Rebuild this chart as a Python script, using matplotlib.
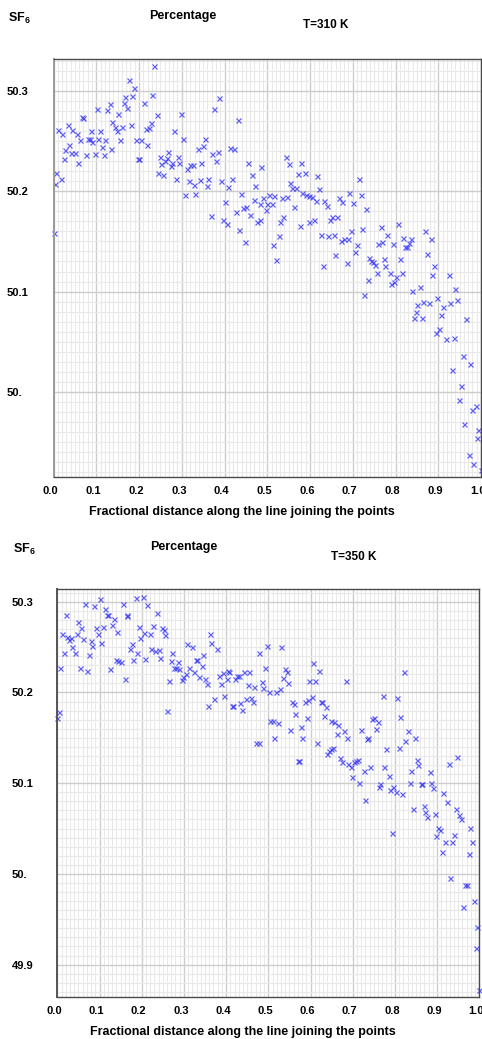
import matplotlib
matplotlib.use("Agg")
import matplotlib.pyplot as plt
from matplotlib.transforms import ScaledTranslation
import numpy as np

plt.rcParams['font.family'] = ['Liberation Sans', 'DejaVu Sans']
plt.rcParams['mathtext.fontset'] = 'custom'
plt.rcParams['mathtext.bf'] = 'Liberation Sans:bold'
plt.rcParams['mathtext.rm'] = 'Liberation Sans:bold'

# ---------------- data: T = 310 K ----------------
x310 = [0.2346, 0.177, 0.189, 0.2315, 0.168, 0.184, 0.388, 0.131, 0.164, 0.211,
        0.101, 0.125, 0.172, 0.375, 0.150, 0.241, 0.298, 0.067, 0.070, 0.431,
        0.138, 0.228, 0.144, 0.161, 0.181, 0.034, 0.011, 0.044, 0.020, 0.054,
        0.087, 0.108, 0.148, 0.216, 0.224, 0.282, 0.061, 0.081, 0.085, 0.091,
        0.105, 0.121, 0.155, 0.194, 0.205, 0.304, 0.354, 0.037, 0.113, 0.218,
        0.349, 0.337, 0.413, 0.422, 0.028, 0.135, 0.040, 0.050, 0.075, 0.097,
        0.117, 0.269, 0.384, 0.371, 0.024, 0.198, 0.201, 0.248, 0.265, 0.291,
        0.379, 0.058, 0.252, 0.261, 0.275, 0.278, 0.294, 0.320, 0.326, 0.346,
        0.455, 0.312, 0.486, 0.007, 0.244, 0.257, 0.465, 0.017, 0.287, 0.316,
        0.342, 0.362, 0.392, 0.418, 0.004, 0.328, 0.358, 0.409, 0.472, 0.307,
        0.331, 0.439, 0.468, 0.401, 0.484, 0.426, 0.443, 0.451, 0.460, 0.368,
        0.396, 0.406, 0.483, 0.476, 0.435, 0.448, 0.0,
        0.543, 0.550, 0.580, 0.573, 0.589, 0.617, 0.715, 0.554, 0.559, 0.567,
        0.622, 0.582, 0.591, 0.598, 0.605, 0.613, 0.692, 0.719, 0.669, 0.676,
        0.701, 0.633, 0.639, 0.490, 0.503, 0.516, 0.534, 0.546, 0.500, 0.510,
        0.496, 0.563, 0.731, 0.537, 0.530, 0.646, 0.652, 0.662, 0.597, 0.609,
        0.576, 0.805, 0.765, 0.868, 0.696, 0.722, 0.527, 0.626, 0.643, 0.655,
        0.672, 0.679, 0.688, 0.781, 0.818, 0.836, 0.882, 0.513, 0.709, 0.759,
        0.769, 0.794, 0.831, 0.823, 0.828, 0.705, 0.659, 0.874, 0.520, 0.739,
        0.743, 0.747, 0.752, 0.772, 0.811, 0.630, 0.686, 0.776, 0.890, 0.756,
        0.786, 0.815, 0.802, 0.885, 0.925, 0.735, 0.789, 0.797, 0.726, 0.839,
        0.858, 0.940, 0.898, 0.851, 0.864, 0.878, 0.911, 0.928, 0.944, 0.847,
        0.907, 0.844, 0.861, 0.965, 0.902, 0.895, 0.918, 0.937,
        0.957, 0.974, 0.932, 0.954, 0.948, 0.988, 0.978, 0.994, 0.961, 0.991,
        0.971, 0.982, 1.0]
y310 = [50.325, 50.311, 50.303, 50.296, 50.294, 50.295, 50.293, 50.287, 50.288, 50.288,
        50.282, 50.281, 50.283, 50.282, 50.277, 50.276, 50.277, 50.274, 50.273, 50.271,
        50.269, 50.268, 50.264, 50.264, 50.266, 50.266, 50.261, 50.261, 50.257, 50.257,
        50.260, 50.260, 50.260, 50.262, 50.263, 50.260, 50.251, 50.252, 50.252, 50.249,
        50.252, 50.251, 50.251, 50.251, 50.251, 50.252, 50.252, 50.246, 50.244, 50.246,
        50.245, 50.242, 50.243, 50.242, 50.241, 50.242, 50.238, 50.238, 50.236, 50.237,
        50.236, 50.239, 50.239, 50.237, 50.232, 50.232, 50.232, 50.234, 50.233, 50.234,
        50.230, 50.228, 50.227, 50.230, 50.225, 50.228, 50.228, 50.226, 50.226, 50.228,
        50.228, 50.222, 50.224, 50.218, 50.218, 50.216, 50.216, 50.212, 50.212, 50.210,
        50.211, 50.212, 50.210, 50.212, 50.207, 50.206, 50.205, 50.204, 50.205, 50.196,
        50.197, 50.197, 50.191, 50.189, 50.187, 50.179, 50.183, 50.184, 50.176, 50.175,
        50.171, 50.167, 50.171, 50.169, 50.161, 50.149, 50.158,
        50.234, 50.227, 50.228, 50.217, 50.218, 50.215, 50.212, 50.208, 50.203, 50.203,
        50.202, 50.198, 50.196, 50.195, 50.194, 50.190, 50.198, 50.196, 50.193, 50.189,
        50.188, 50.190, 50.185, 50.193, 50.196, 50.195, 50.193, 50.194, 50.187, 50.187,
        50.181, 50.184, 50.182, 50.174, 50.169, 50.171, 50.174, 50.174, 50.169, 50.171,
        50.165, 50.167, 50.164, 50.160, 50.160, 50.162, 50.155, 50.156, 50.155, 50.156,
        50.150, 50.152, 50.152, 50.156, 50.153, 50.152, 50.152, 50.146, 50.146, 50.147,
        50.149, 50.147, 50.148, 50.144, 50.144, 50.139, 50.136, 50.137, 50.131, 50.133,
        50.130, 50.129, 50.126, 50.132, 50.132, 50.125, 50.128, 50.125, 50.125, 50.119,
        50.119, 50.119, 50.115, 50.117, 50.117, 50.112, 50.108, 50.110, 50.097, 50.101,
        50.105, 50.103, 50.094, 50.087, 50.090, 50.089, 50.085, 50.089, 50.092, 50.080,
        50.077, 50.074, 50.074, 50.073, 50.063, 50.059, 50.053, 50.054,
        50.036, 50.028, 50.022, 50.006, 49.992, 49.986, 49.982, 49.962, 49.968, 49.954,
        49.937, 49.928, 49.922]

# ---------------- data: T = 350 K ----------------
x350 = [0.100, 0.186, 0.202, 0.066, 0.087, 0.156, 0.213, 0.113, 0.021, 0.118,
        0.121, 0.164, 0.166, 0.236, 0.134, 0.050, 0.130, 0.057, 0.092, 0.109,
        0.193, 0.227, 0.249, 0.252, 0.142, 0.010, 0.024, 0.028, 0.032, 0.046,
        0.062, 0.096, 0.206, 0.220, 0.196, 0.256, 0.079, 0.104, 0.036, 0.083,
        0.176, 0.172, 0.222, 0.232, 0.240, 0.016, 0.041, 0.074, 0.189, 0.272,
        0.308, 0.319, 0.362, 0.365, 0.378, 0.345, 0.243, 0.139, 0.145, 0.150,
        0.179, 0.209, 0.269, 0.285, 0.328, 0.332, 0.006, 0.054, 0.070, 0.126,
        0.277, 0.282, 0.289, 0.312, 0.342, 0.324, 0.304, 0.299, 0.296, 0.335,
        0.349, 0.354, 0.160, 0.265, 0.383, 0.392, 0.405, 0.408, 0.402, 0.427,
        0.430, 0.442, 0.455, 0.421, 0.387, 0.451, 0.467, 0.479, 0.395, 0.371,
        0.357, 0.413, 0.417, 0.434, 0.447, 0.459, 0.463, 0.438, 0.003, 0.0,
        0.261, 0.472, 0.477,
        0.497, 0.530, 0.493, 0.484, 0.488, 0.501, 0.518, 0.527, 0.534, 0.540,
        0.544, 0.547, 0.607, 0.620, 0.597, 0.610, 0.683, 0.821, 0.557, 0.561,
        0.587, 0.594, 0.603, 0.624, 0.627, 0.637, 0.564, 0.591, 0.633, 0.772,
        0.806, 0.812, 0.503, 0.511, 0.523, 0.551, 0.577, 0.648, 0.655, 0.666,
        0.680, 0.663, 0.687, 0.720, 0.745, 0.751, 0.759, 0.756, 0.831, 0.514,
        0.581, 0.733, 0.736, 0.825, 0.847, 0.616, 0.653, 0.648, 0.643, 0.640,
        0.779, 0.810, 0.571, 0.573, 0.670, 0.674, 0.689, 0.695, 0.702, 0.707,
        0.712, 0.742, 0.775, 0.852, 0.855, 0.928, 0.948, 0.726, 0.839, 0.882,
        0.699, 0.785, 0.716, 0.764, 0.762, 0.796, 0.789, 0.802, 0.818, 0.836,
        0.862, 0.864, 0.886, 0.890, 0.915, 0.730, 0.924, 0.869, 0.843, 0.872,
        0.895, 0.944, 0.952, 0.877, 0.957,
        0.978, 0.902, 0.907, 0.792, 0.898, 0.941, 0.919, 0.936, 0.982, 0.912,
        0.975, 0.931, 0.965, 0.971, 0.988, 0.962, 0.995, 0.991, 1.0]
y350 = [50.303, 50.304, 50.305, 50.298, 50.295, 50.297, 50.296, 50.292, 50.285, 50.285,
        50.285, 50.284, 50.285, 50.288, 50.281, 50.278, 50.274, 50.271, 50.271, 50.272,
        50.272, 50.273, 50.271, 50.269, 50.267, 50.264, 50.261, 50.258, 50.260, 50.264,
        50.259, 50.264, 50.265, 50.264, 50.260, 50.263, 50.257, 50.254, 50.250, 50.251,
        50.253, 50.248, 50.248, 50.246, 50.247, 50.243, 50.243, 50.241, 50.244, 50.244,
        50.253, 50.250, 50.264, 50.255, 50.248, 50.241, 50.238, 50.236, 50.235, 50.234,
        50.236, 50.237, 50.235, 50.234, 50.236, 50.236, 50.227, 50.227, 50.224, 50.226,
        50.227, 50.227, 50.226, 50.227, 50.229, 50.223, 50.220, 50.217, 50.214, 50.217,
        50.215, 50.209, 50.215, 50.213, 50.218, 50.221, 50.224, 50.222, 50.215, 50.218,
        50.218, 50.222, 50.222, 50.215, 50.209, 50.208, 50.206, 50.244, 50.196, 50.193,
        50.185, 50.185, 50.185, 50.188, 50.193, 50.194, 50.189, 50.181, 50.178, 50.172,
        50.180, 50.144, 50.144,
        50.251, 50.250, 50.227, 50.211, 50.205, 50.200, 50.201, 50.204, 50.216, 50.226,
        50.223, 50.210, 50.232, 50.224, 50.213, 50.213, 50.213, 50.222, 50.189, 50.187,
        50.189, 50.192, 50.195, 50.189, 50.190, 50.184, 50.176, 50.172, 50.174, 50.196,
        50.194, 50.173, 50.168, 50.168, 50.166, 50.159, 50.162, 50.168, 50.167, 50.164,
        50.157, 50.154, 50.150, 50.159, 50.171, 50.172, 50.167, 50.160, 50.158, 50.150,
        50.150, 50.149, 50.150, 50.147, 50.150, 50.144, 50.139, 50.138, 50.136, 50.132,
        50.138, 50.139, 50.125, 50.125, 50.128, 50.123, 50.121, 50.118, 50.123, 50.124,
        50.126, 50.118, 50.118, 50.126, 50.120, 50.121, 50.129, 50.113, 50.113, 50.112,
        50.107, 50.108, 50.100, 50.099, 50.096, 50.096, 50.093, 50.090, 50.088, 50.100,
        50.099, 50.099, 50.100, 50.095, 50.089, 50.082, 50.079, 50.075, 50.071, 50.068,
        50.066, 50.072, 50.065, 50.063, 50.061,
        50.051, 50.051, 50.048, 50.045, 50.042, 50.043, 50.035, 50.035, 50.035, 50.024,
        50.022, 49.996, 49.988, 49.988, 49.970, 49.964, 49.941, 49.918, 49.872]

xticks = [0.0, 0.1, 0.2, 0.3, 0.4, 0.5, 0.6, 0.7, 0.8, 0.9, 1.0]
xticklabels = ["0.0", "0.1", "0.2", "0.3", "0.4", "0.5", "0.6", "0.7", "0.8", "0.9", "1.0"]
yticks310 = [50.0, 50.1, 50.2, 50.3]
yticklabels310 = ["50.", "50.1", "50.2", "50.3"]
yticks350 = [49.9, 50.0, 50.1, 50.2, 50.3]
yticklabels350 = ["49.9", "50.", "50.1", "50.2", "50.3"]
xlabel_text = "Fractional distance along the line joining the points"

W, H = 482, 1039
fig = plt.figure(figsize=(W / 100, H / 100), dpi=100)


def make_panel(rect, xs, ys, ylim, yticks, ylabels, ylab_left_px, left_spine_color):
    l, t, r, b = rect
    ax = fig.add_axes([l / W, 1 - b / H, (r - l) / W, (b - t) / H])
    ax.set_xlim(0, 1.0)
    ax.set_ylim(*ylim)
    ax.set_xticks(np.arange(0, 1.0001, 0.01), minor=True)
    ax.set_yticks(np.arange(49.8, 50.4, 0.01), minor=True)
    ax.set_xticks(xticks)
    ax.set_xticklabels(xticklabels, fontsize=8, fontweight='bold')
    ax.set_yticks(yticks)
    ax.set_yticklabels(ylabels, fontsize=8, fontweight='bold')
    ax.set_ylim(*ylim)
    ax.grid(which='minor', color='#e9e9e9', linewidth=0.8)
    ax.grid(which='major', color='#cdcdcd', linewidth=1.0)
    ax.set_axisbelow(True)
    ax.tick_params(which='both', length=0)
    ax.tick_params(axis='x', pad=6.5)
    pad_px = l - ylab_left_px
    ax.tick_params(axis='y', pad=pad_px * 0.72)
    for lbl in ax.get_yticklabels():
        lbl.set_horizontalalignment('left')
    off = ScaledTranslation(-3 / 100, 0, fig.dpi_scale_trans)
    for lbl in ax.get_xticklabels():
        lbl.set_transform(lbl.get_transform() + off)
    for s in ['top', 'right', 'bottom']:
        ax.spines[s].set_color('#4a4a4a')
        ax.spines[s].set_linewidth(1.0)
    ax.spines['left'].set_color(left_spine_color)
    ax.spines['left'].set_linewidth(1.4)
    ax.plot(xs, ys, linestyle='none', marker='x', markersize=3.6,
            markeredgewidth=0.9, color='#3a3af5', alpha=0.8, clip_on=False)
    return ax


ax1 = make_panel((53.5, 59.3, 481.0, 476.7), x310, y310, (49.915, 50.332),
                 yticks310, yticklabels310, 7, '#9a9a9a')
ax2 = make_panel((57.3, 589.3, 479.3, 997.3), x350, y350, (49.864, 50.3137),
                 yticks350, yticklabels350, 12, '#555555')


def ftxt(x, y, s, size, ha='center'):
    fig.text(x / W, 1 - y / H, s, fontsize=size, fontweight='bold',
             ha=ha, va='center')


ftxt(8, 18, r"SF$_\mathbf{6}$", 9, ha='left')
ftxt(183, 16, "Percentage", 9)
ftxt(326, 25, "T=310 K", 8.5)
ftxt(241.5, 512, xlabel_text, 9)

ftxt(13, 549, r"SF$_\mathbf{6}$", 9, ha='left')
ftxt(184, 547, "Percentage", 9)
ftxt(354, 557, "T=350 K", 8.5)
ftxt(242.5, 1032, xlabel_text, 9)

fig.savefig("out.png", dpi=100)
